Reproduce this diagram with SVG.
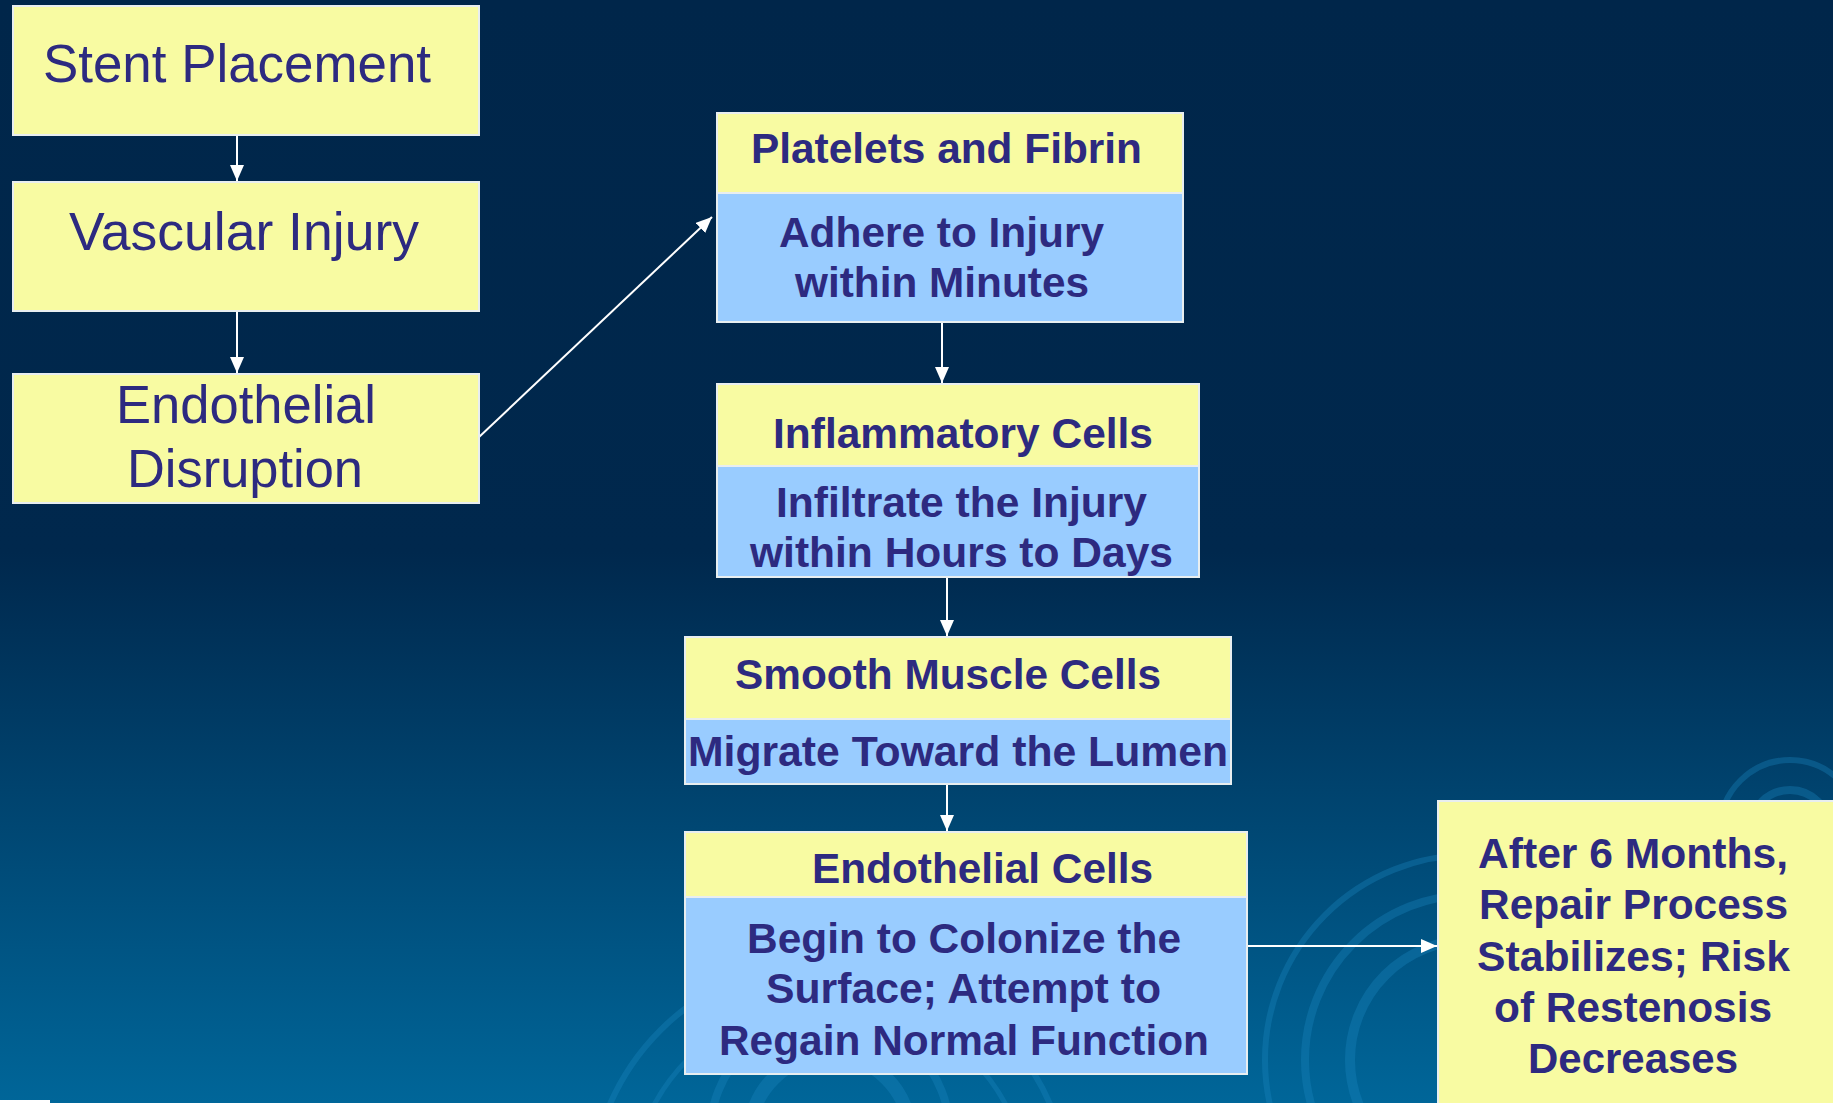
<svg xmlns="http://www.w3.org/2000/svg" width="1833" height="1103" viewBox="0 0 1833 1103">
<defs>
<linearGradient id="bg" x1="0" y1="0" x2="0" y2="1">
<stop offset="0" stop-color="#00264a"/>
<stop offset="0.5" stop-color="#00284d"/>
<stop offset="1" stop-color="#006699"/>
</linearGradient>
<marker id="ah" markerUnits="userSpaceOnUse" markerWidth="18" markerHeight="16" refX="16" refY="7" orient="auto">
<path d="M0,0 L16,7 L0,14 z" fill="#ffffff"/>
</marker>
<style>
.y{fill:#f8fba2;stroke:#e8eef0;stroke-width:2}
.b{fill:#99ccff;stroke:#e8eef0;stroke-width:2}
.r{font-family:"Liberation Sans",Arial,sans-serif;font-size:53px;fill:#2d2a80}
.t{font-family:"Liberation Sans",Arial,sans-serif;font-size:42px;font-weight:bold;fill:#2d2a80}
.c{fill:none;stroke:#ffffff;stroke-width:2}
.s{fill:none;stroke:#1a86c0;stroke-opacity:0.35}
</style>
</defs>
<rect x="0" y="0" width="1833" height="1103" fill="url(#bg)"/>
<g id="swirls">
<circle class="s" cx="1470" cy="1060" r="120" stroke-width="10"/>
<circle class="s" cx="1470" cy="1060" r="165" stroke-width="8"/>
<circle class="s" cx="1470" cy="1060" r="205" stroke-width="6"/>
<circle class="s" cx="1790" cy="830" r="40" stroke-width="8"/>
<circle class="s" cx="1790" cy="830" r="70" stroke-width="6"/>
<circle class="s" cx="830" cy="1135" r="80" stroke-width="14" stroke="#1b9ad8" stroke-opacity="0.7"/>
<circle class="s" cx="830" cy="1135" r="120" stroke-width="8"/>
<circle class="s" cx="830" cy="1200" r="240" stroke-width="6"/>
<circle class="s" cx="830" cy="1200" r="200" stroke-width="5"/>
</g>
<rect x="0" y="1100" width="50" height="3" fill="#ffffff"/>
<g id="connectors">
<line class="c" x1="237" y1="135" x2="237" y2="181" marker-end="url(#ah)"/>
<line class="c" x1="237" y1="311" x2="237" y2="373" marker-end="url(#ah)"/>
<line class="c" x1="478" y1="438" x2="712" y2="217" marker-end="url(#ah)"/>
<line class="c" x1="942" y1="322" x2="942" y2="383" marker-end="url(#ah)"/>
<line class="c" x1="947" y1="577" x2="947" y2="636" marker-end="url(#ah)"/>
<line class="c" x1="947" y1="784" x2="947" y2="831" marker-end="url(#ah)"/>
<line class="c" x1="1247" y1="946" x2="1437" y2="946" marker-end="url(#ah)"/>
</g>
<g id="stent">
<rect class="y" x="13" y="6" width="466" height="129"/>
<text class="r" x="43" y="82" textLength="388" lengthAdjust="spacingAndGlyphs">Stent Placement</text>
</g>
<g id="vascular">
<rect class="y" x="13" y="182" width="466" height="129"/>
<text class="r" x="69" y="250" textLength="350" lengthAdjust="spacingAndGlyphs">Vascular Injury</text>
</g>
<g id="disruption">
<rect class="y" x="13" y="374" width="466" height="129"/>
<text class="r" x="116" y="423" textLength="260" lengthAdjust="spacingAndGlyphs">Endothelial</text>
<text class="r" x="127" y="487" textLength="236" lengthAdjust="spacingAndGlyphs">Disruption</text>
</g>
<g id="platelets">
<rect class="y" x="717" y="113" width="466" height="80"/>
<rect class="b" x="717" y="193" width="466" height="129"/>
<text class="t" x="751" y="163" textLength="391" lengthAdjust="spacingAndGlyphs">Platelets and Fibrin</text>
<text class="t" x="779" y="247" textLength="325" lengthAdjust="spacingAndGlyphs">Adhere to Injury</text>
<text class="t" x="795" y="297" textLength="294" lengthAdjust="spacingAndGlyphs">within Minutes</text>
</g>
<g id="inflammatory">
<rect class="y" x="717" y="384" width="482" height="82"/>
<rect class="b" x="717" y="466" width="482" height="111"/>
<text class="t" x="773" y="448" textLength="380" lengthAdjust="spacingAndGlyphs">Inflammatory Cells</text>
<text class="t" x="776" y="517" textLength="371" lengthAdjust="spacingAndGlyphs">Infiltrate the Injury</text>
<text class="t" x="750" y="567" textLength="423" lengthAdjust="spacingAndGlyphs">within Hours to Days</text>
</g>
<g id="smooth">
<rect class="y" x="685" y="637" width="546" height="82"/>
<rect class="b" x="685" y="719" width="546" height="65"/>
<text class="t" x="735" y="689" textLength="426" lengthAdjust="spacingAndGlyphs">Smooth Muscle Cells</text>
<text class="t" x="688" y="766" textLength="540" lengthAdjust="spacingAndGlyphs">Migrate Toward the Lumen</text>
</g>
<g id="endothelial">
<rect class="y" x="685" y="832" width="562" height="65"/>
<rect class="b" x="685" y="897" width="562" height="177"/>
<text class="t" x="812" y="883" textLength="341" lengthAdjust="spacingAndGlyphs">Endothelial Cells</text>
<text class="t" x="747" y="953" textLength="434" lengthAdjust="spacingAndGlyphs">Begin to Colonize the</text>
<text class="t" x="766" y="1003" textLength="395" lengthAdjust="spacingAndGlyphs">Surface; Attempt to</text>
<text class="t" x="719" y="1055" textLength="490" lengthAdjust="spacingAndGlyphs">Regain Normal Function</text>
</g>
<g id="after">
<rect class="y" x="1438" y="801" width="420" height="320"/>
<text class="t" x="1478" y="868" textLength="310" lengthAdjust="spacingAndGlyphs">After 6 Months,</text>
<text class="t" x="1479" y="919" textLength="309" lengthAdjust="spacingAndGlyphs">Repair Process</text>
<text class="t" x="1477" y="971" textLength="313" lengthAdjust="spacingAndGlyphs">Stabilizes; Risk</text>
<text class="t" x="1494" y="1022" textLength="278" lengthAdjust="spacingAndGlyphs">of Restenosis</text>
<text class="t" x="1528" y="1073" textLength="210" lengthAdjust="spacingAndGlyphs">Decreases</text>
</g>
</svg>
